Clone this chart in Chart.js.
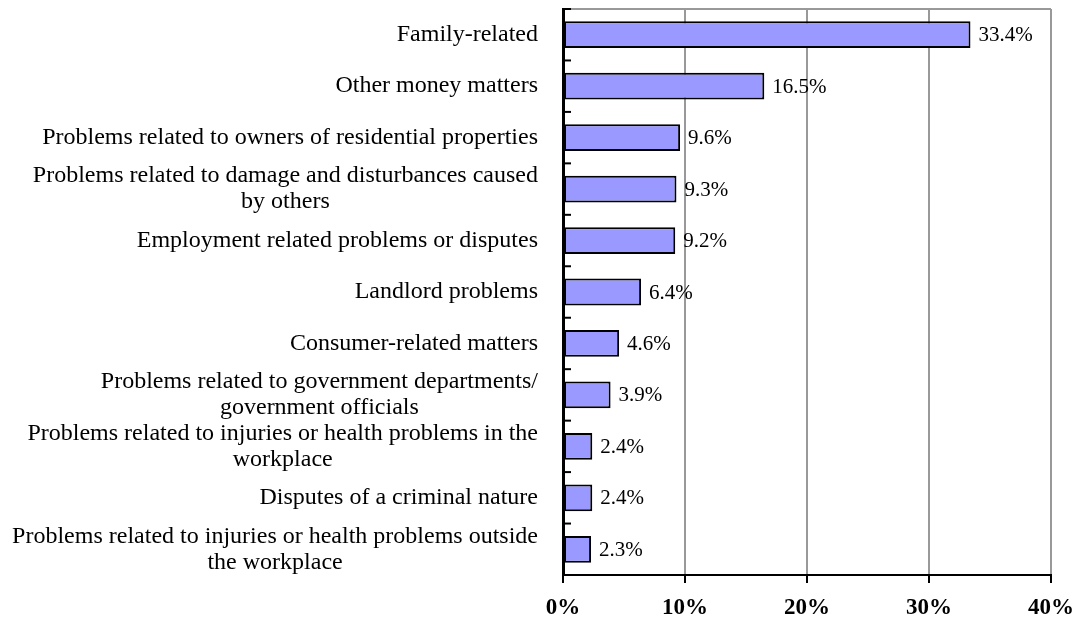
<!DOCTYPE html>
<html lang="en">
<head>
    <meta charset="UTF-8">
    <title>Problem types</title>
    <style>
        body {
            margin: 0;
            padding: 0;
            background: #fff;
        }
        .chart-box {
            width: 1085px;
            height: 622px;
            position: relative;
        }
    </style>
</head>
<body>
    <div class="chart-box">
        <canvas id="problemsChart"></canvas>
    </div>

    <script src="https://cdn.jsdelivr.net/npm/chart.js"></script>
    <script>
        // Data
        const categories = [
            ['Family-related'],
            ['Other money matters'],
            ['Problems related to owners of residential properties'],
            ['Problems related to damage and disturbances caused', 'by others'],
            ['Employment related problems or disputes'],
            ['Landlord problems'],
            ['Consumer-related matters'],
            ['Problems related to government departments/', 'government officials'],
            ['Problems related to injuries or health problems in the', 'workplace'],
            ['Disputes of a criminal nature'],
            ['Problems related to injuries or health problems outside', 'the workplace']
        ];
        const shares = [33.4, 16.5, 9.6, 9.3, 9.2, 6.4, 4.6, 3.9, 2.4, 2.4, 2.3];
        const xTicks = [0, 10, 20, 30, 40];

        const serif = "'Liberation Serif', 'Times New Roman', serif";

        // category labels: block right-aligned, lines centred inside the block
        const categoryLabels = {
            id: 'categoryLabels',
            afterDraw(chart) {
                const ctx = chart.ctx;
                const yScale = chart.scales.y;
                const right = chart.chartArea.left - 25;
                const lineH = 26;
                ctx.save();
                ctx.font = '24px ' + serif;
                ctx.fillStyle = '#000';
                ctx.textBaseline = 'middle';
                ctx.textAlign = 'center';
                categories.forEach((lines, i) => {
                    const yc = yScale.getPixelForValue(i);
                    const w = Math.max(...lines.map(l => ctx.measureText(l).width));
                    const cx = right - w / 2;
                    const y0 = yc - (lines.length - 1) * lineH / 2;
                    lines.forEach((l, k) => ctx.fillText(l, cx, y0 + k * lineH));
                });
                ctx.restore();
            }
        };

        // plot frame: gray top edge, small inward ticks on the category axis
        const frame = {
            id: 'frame',
            afterDatasetsDraw(chart) {
                const ctx = chart.ctx;
                const a = chart.chartArea;
                const yScale = chart.scales.y;
                ctx.save();
                ctx.strokeStyle = '#999';
                ctx.lineWidth = 2;
                ctx.beginPath();
                ctx.moveTo(a.left, a.top);
                ctx.lineTo(a.right, a.top);
                ctx.stroke();
                ctx.strokeStyle = '#000';
                ctx.lineWidth = 2;
                for (let i = 0; i <= categories.length; i++) {
                    const y = yScale.getPixelForValue(i - 0.5);
                    ctx.beginPath();
                    ctx.moveTo(a.left, y);
                    ctx.lineTo(a.left + 8, y);
                    ctx.stroke();
                }
                ctx.restore();
            }
        };

        const valueLabels = {
            id: 'valueLabels',
            afterDatasetsDraw(chart) {
                const ctx = chart.ctx;
                const meta = chart.getDatasetMeta(0);
                ctx.save();
                ctx.font = '21px ' + serif;
                ctx.fillStyle = '#000';
                ctx.textBaseline = 'middle';
                ctx.textAlign = 'left';
                meta.data.forEach((bar, i) => {
                    ctx.fillText(shares[i].toFixed(1) + '%', bar.x + 8, bar.y + 1);
                });
                ctx.restore();
            }
        };

        const ctx1 = document.getElementById('problemsChart').getContext('2d');
        const problemsChart = new Chart(ctx1, {
            type: 'bar',
            data: {
                labels: categories,
                datasets: [{
                    data: shares,
                    backgroundColor: '#9999FF',
                    borderColor: '#000',
                    borderWidth: 2,
                    borderSkipped: false,
                    barPercentage: 0.52,
                    categoryPercentage: 1
                }]
            },
            options: {
                indexAxis: 'y',
                responsive: true,
                maintainAspectRatio: false,
                animation: false,
                layout: {
                    padding: { top: 9, right: 32, left: 0, bottom: 0 }
                },
                plugins: {
                    legend: { display: false },
                    tooltip: { enabled: false }
                },
                scales: {
                    x: {
                        min: xTicks[0],
                        max: xTicks[xTicks.length - 1],
                        afterBuildTicks: s => { s.ticks = xTicks.map(v => ({ value: v })); },
                        afterFit: s => { s.height = 47; },
                        ticks: {
                            callback: v => v + '%',
                            color: '#000',
                            padding: 11,
                            font: { family: serif, size: 23, weight: 'bold' }
                        },
                        grid: {
                            color: c => (c.tick && c.tick.value === 0) ? '#000' : '#999',
                            lineWidth: 2,
                            tickColor: '#000',
                            tickLength: 8
                        },
                        border: { color: '#000', width: 2 }
                    },
                    y: {
                        afterFit: s => { s.width = 563; },
                        ticks: { display: false },
                        grid: { display: false },
                        border: { color: '#000', width: 3 }
                    }
                }
            },
            plugins: [frame, valueLabels, categoryLabels]
        });
    </script>
</body>
</html>
